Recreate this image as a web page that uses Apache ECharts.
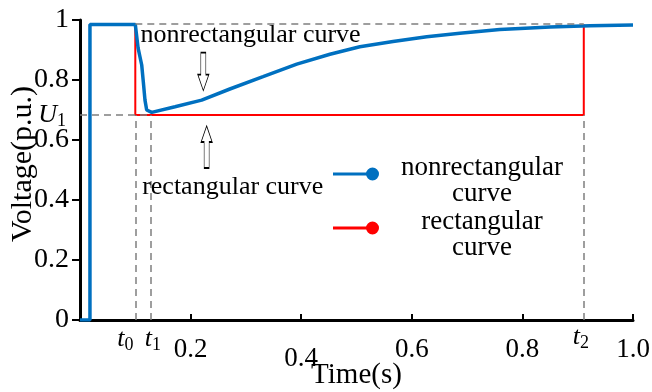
<!DOCTYPE html>
<html>
<head>
<meta charset="utf-8">
<script src="https://cdn.jsdelivr.net/npm/echarts@6/dist/echarts.min.js"></script>
<style>
  html, body { margin: 0; padding: 0; background: #fff; }
  #chart { width: 652px; height: 392px; }
</style>
</head>
<body>
<div id="chart"></div>
<script>
// values
var tBlue = [0, 0.018, 0.018, 0.1, 0.105, 0.1116, 0.1145, 0.1175, 0.1206, 0.1297, 0.1718, 0.22, 0.271, 0.331, 0.392, 0.452, 0.506, 0.566, 0.627, 0.687, 0.759, 0.796, 0.85, 0.922, 1.0];
var vBlue = [0, 0, 0.985, 0.985, 0.907, 0.85, 0.794, 0.733, 0.70, 0.692, 0.711, 0.733, 0.77, 0.811, 0.853, 0.886, 0.911, 0.928, 0.944, 0.956, 0.968, 0.972, 0.977, 0.981, 0.983];
var tRect = [0.1, 0.1, 0.911, 0.911];
var vRect = [0.985, 0.683, 0.683, 0.985];
var t0 = 0.1, t1 = 0.128, t2 = 0.911;
var U1 = 0.683, topLevel = 0.987;
var seriesNames = ['nonrectangular curve', 'rectangular curve'];
var legendLines = [['nonrectangular', 'curve'], ['rectangular', 'curve']];

var FONT = '"Liberation Serif", "Times New Roman", serif';
var dash = { color: '#7f7f7f', type: [7, 5], width: 1.5 };

function pairs(xs, ys) {
    return xs.map(function (x, i) { return [x, ys[i]]; });
}

// line + dot, with an invisible speck below so the dot sits above the text centre
var iconPath = 'path://M0,5L34,5L34,8L0,8Z M39.5,0A6.5,6.5,0,1,1,39.5,13A6.5,6.5,0,1,1,39.5,0Z M0,26L0.01,26L0,26.01Z';
var downArrow = 'path://M3,0L8,0L8,22L11,22L5.5,38L0,22L3,22Z';
var upArrow = 'path://M5.5,0L11,16L8,16L8,42L3,42L3,16L0,16Z';

var subRich = {
    i: { fontFamily: FONT, fontSize: 26, fontStyle: 'italic', color: '#000' },
    s: { fontFamily: FONT, fontSize: 18, color: '#000', padding: [12, 0, 0, 0] }
};

var myChart = echarts.init(document.getElementById('chart'));

var option = {
    animation: false,
    grid: { left: 80, right: 19, top: 20, bottom: 72, outerBoundsMode: 'none', containLabel: false },
    xAxis: {
        type: 'value',
        min: 0, max: 1, interval: 0.2,
        name: 'Time(s)',
        nameLocation: 'middle',
        nameGap: 41,
        nameMoveOverlap: false,
        nameTextStyle: { fontFamily: FONT, fontSize: 29, color: '#000' },
        axisLine: { lineStyle: { color: '#000', width: 3 } },
        axisTick: { inside: true, length: 6, lineStyle: { color: '#000', width: 2 } },
        splitLine: { show: false },
        axisLabel: {
            margin: 16,
            fontFamily: FONT, fontSize: 27, color: '#000',
            formatter: function (v) {
                if (v === 0) return '';
                var s = v.toFixed(1);
                return Math.abs(v - 0.4) < 1e-9 ? '{lo|' + s + '}' : s;
            },
            rich: { lo: { fontFamily: FONT, fontSize: 27, color: '#000', padding: [9, 0, 0, 0] } }
        }
    },
    yAxis: {
        type: 'value',
        min: 0, max: 1, interval: 0.2,
        name: 'Voltage(p.u.)',
        nameLocation: 'middle',
        nameGap: 42,
        nameMoveOverlap: false,
        nameTextStyle: { fontFamily: FONT, fontSize: 30, color: '#000', padding: [0, 0, 0, 12] },
        axisLine: { show: true, lineStyle: { color: '#000', width: 3 } },
        axisTick: { show: true, length: 8, lineStyle: { color: '#000', width: 2 } },
        splitLine: { show: false },
        axisLabel: { margin: 11, fontFamily: FONT, fontSize: 28, color: '#000' }
    },
    legend: {
        orient: 'vertical',
        left: 333, top: 154,
        padding: 0,
        itemGap: 1,
        itemWidth: 46, itemHeight: 27,
        data: [
            { name: seriesNames[0], icon: iconPath },
            { name: seriesNames[1], icon: iconPath }
        ],
        formatter: function (name) {
            var l = legendLines[seriesNames.indexOf(name)];
            return '{a|' + l[0] + '}\n{a|' + l[1] + '}';
        },
        textStyle: {
            fontFamily: FONT, fontSize: 27, color: '#000',
            rich: {
                a: { fontFamily: FONT, fontSize: 27, lineHeight: 26, width: 196, align: 'center', color: '#000' }
            }
        }
    },
    series: [
        {
            name: seriesNames[1],
            type: 'line',
            data: pairs(tRect, vRect),
            showSymbol: false,
            color: '#ff0000',
            lineStyle: { color: '#ff0000', width: 2 },
            z: 3,
            markLine: {
                silent: true,
                symbol: 'none',
                lineStyle: dash,
                label: { show: false },
                data: [
                    [{ coord: [t0, topLevel] }, { coord: [t2, topLevel] }],
                    [{ coord: [0, U1],
                       label: { show: true, position: 'start', distance: 14, formatter: '{i|U}{s|1}', rich: subRich } },
                     { coord: [t1, U1] }],
                    [{ coord: [t0, 0],
                       label: { show: true, position: 'start', distance: 4, offset: [-10, 0], formatter: '{i|t}{s|0}', rich: subRich } },
                     { coord: [t0, U1] }],
                    [{ coord: [t1, 0],
                       label: { show: true, position: 'start', distance: 4, offset: [2, 0], formatter: '{i|t}{s|1}', rich: subRich } },
                     { coord: [t1, U1] }],
                    [{ coord: [t2, 0],
                       label: { show: true, position: 'start', distance: 2, offset: [-3, 0], formatter: '{i|t}{s|2}', rich: subRich } },
                     { coord: [t2, U1] }]
                ]
            }
        },
        {
            name: seriesNames[0],
            type: 'line',
            data: pairs(tBlue, vBlue),
            showSymbol: false,
            color: '#0070c0',
            lineStyle: { color: '#0070c0', width: 3.5 },
            z: 4,
            markPoint: {
                silent: true,
                itemStyle: { color: '#fff', borderColor: '#000', borderWidth: 1 },
                label: { show: false },
                data: [
                    { coord: [0.223, 0.828], symbol: downArrow, symbolSize: [11, 38] },
                    { coord: [0.229, 0.577], symbol: upArrow, symbolSize: [11, 42] },
                    { coord: [0.1085, 0.95], symbol: 'rect', symbolSize: 1,
                      itemStyle: { color: 'rgba(0,0,0,0)', borderWidth: 0 },
                      label: { show: true, position: 'right', distance: 0, formatter: 'nonrectangular curve',
                               fontFamily: FONT, fontSize: 26, color: '#000' } },
                    { coord: [0.1115, 0.444], symbol: 'rect', symbolSize: 1,
                      itemStyle: { color: 'rgba(0,0,0,0)', borderWidth: 0 },
                      label: { show: true, position: 'right', distance: 0, formatter: 'rectangular curve',
                               fontFamily: FONT, fontSize: 26, color: '#000' } }
                ]
            }
        }
    ]
};

myChart.setOption(option);
</script>
</body>
</html>
